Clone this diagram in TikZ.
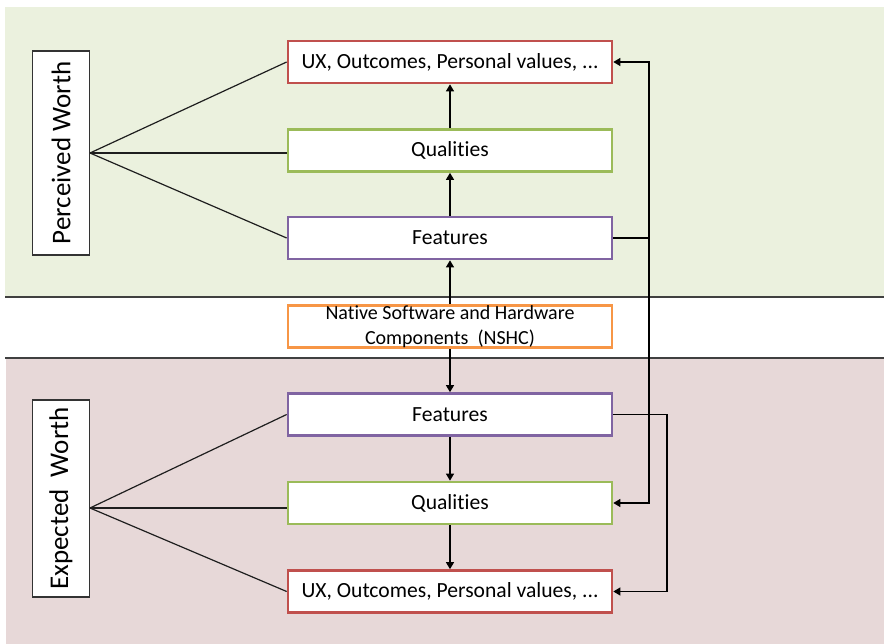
\documentclass[tikz,border=0pt]{standalone}
\usepackage{fontspec}
\setmainfont{Carlito}[Ligatures=NoCommon]
\usetikzlibrary{arrows.meta}
\definecolor{bggreen}{RGB}{235,241,222}
\definecolor{bgpink}{RGB}{231,216,216}
\definecolor{cred}{RGB}{192,80,77}
\definecolor{cgreen}{RGB}{155,187,89}
\definecolor{cpurple}{RGB}{128,100,162}
\definecolor{corange}{RGB}{247,150,70}
\definecolor{cline}{RGB}{30,30,30}
\tikzset{
  box/.style={draw=#1, line width=2.7pt, fill=white, minimum width=324pt, minimum height=42pt, inner sep=0pt, font=\fontsize{21.6}{25}\selectfont, align=center},
  worth/.style={draw=black!80, line width=1.2pt, fill=white, minimum height=57pt, inner sep=0pt, rotate=90, font=\fontsize{27}{30}\selectfont},
  fan/.style={draw=cline, line width=1.2pt},
  conn/.style={draw=black, line width=1.3pt},
  arr/.style={conn, -{Triangle[length=7pt,width=8pt]}},
  sep/.style={draw=black!75, line width=1.5pt}
}
\begin{document}
\begin{tikzpicture}[x=1pt,y=-1pt]
\useasboundingbox (0,0) rectangle (884,644);
\fill[bggreen] (5,7) rectangle (884,297);
\fill[bgpink] (6,358) rectangle (884,644);
\draw[sep] (5,297) -- (884,297);
\draw[sep] (5,358) -- (884,358);

\node[box=cred]    (ux1)  at (450,62)    {UX, Outcomes, Personal values, ...};
\node[box=cgreen]  (q1)   at (450,150.5) {Qualities};
\node[box=cpurple] (f1)   at (450,238)   {Features};
\node[box=corange, font=\fontsize{20}{25}\selectfont] (ns) at (450,326.5) {Native Software and Hardware\\Components\ \ (NSHC)};
\node[box=cpurple] (f2)   at (450,414.5) {Features};
\node[box=cgreen]  (q2)   at (450,503)   {Qualities};
\node[box=cred]    (ux2)  at (450,591.5) {UX, Outcomes, Personal values, ...};

\node[worth, minimum width=204pt] (pw) at (61,153) {Perceived Worth};
\node[worth, minimum width=197pt] (ew) at (61,498.5) {Expected\ \ Worth};

\coordinate (pwo) at (90,153);
\coordinate (ewo) at (90,508);
\draw[fan] (pwo) -- (ux1.west);
\draw[fan] (pwo) -- (q1.west |- pwo);
\draw[fan] (pwo) -- (f1.west);
\draw[fan] (ewo) -- (f2.west);
\draw[fan] (ewo) -- (q2.west |- ewo);
\draw[fan] (ewo) -- (ux2.west);

\draw[arr] (q1.north) -- (ux1.south);
\draw[arr] (f1.north) -- (q1.south);
\draw[arr] (ns.north) -- (f1.south);
\draw[arr] (ns.south) -- (f2.north);
\draw[arr] (f2.south) -- (q2.north);
\draw[arr] (q2.south) -- (ux2.north);

\coordinate (r1) at (649,0);
\coordinate (r2) at (667,0);
\draw[conn] (f1.east) -- (f1.east -| r1);
\draw[arr] (f1.east -| r1) |- (ux1.east);
\draw[arr] (f1.east -| r1) |- (q2.east);
\draw[arr] (f2.east) -| (r2 |- ux2.east) -- (ux2.east);
\end{tikzpicture}
\end{document}
